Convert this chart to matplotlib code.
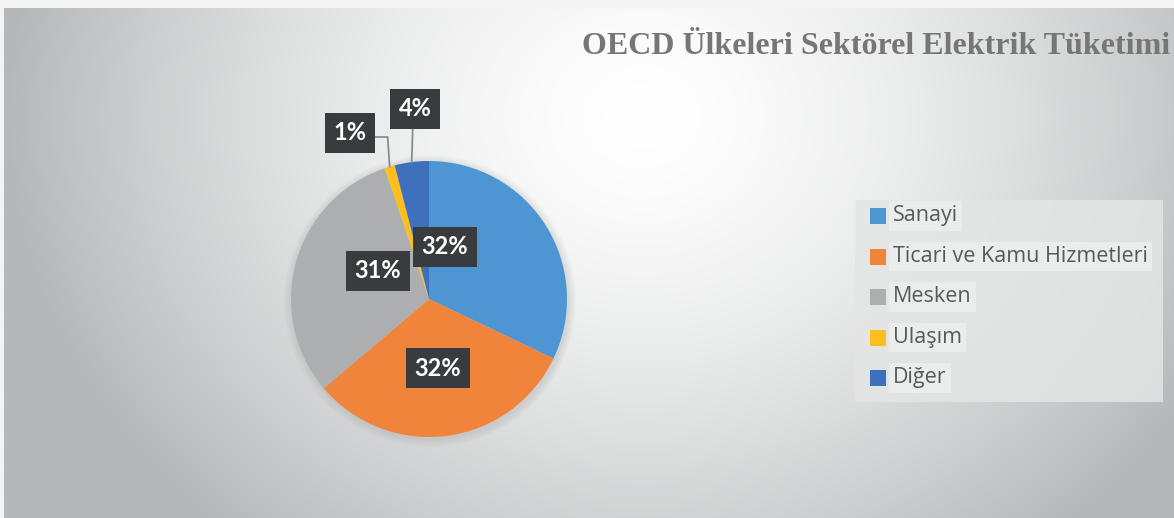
import numpy as np
import matplotlib
matplotlib.use('Agg')
import matplotlib.pyplot as plt

# veriler
categories = ["Sanayi", "Ticari ve Kamu Hizmetleri", "Mesken", "Ulaşım", "Diğer"]
shares = [32.1, 31.7, 31.0, 1.2, 4.0]
pct_labels = ["32%", "32%", "31%", "1%", "4%"]
colors = ['#4e95d3', '#f0843a', '#adaeb0', '#fdbe1e', '#3e71bd']
title = "OECD Ülkeleri Sektörel Elektrik Tüketimi"

W, H = 1174, 518
fig = plt.figure(figsize=(W / 100, H / 100), dpi=100)
fig.patch.set_facecolor('#f4f4f4')
ax = fig.add_axes([0, 0, 1, 1])

# arka plan: radyal gradyan
xx, yy = np.meshgrid(np.arange(W), np.arange(H))
d = np.sqrt(((xx - 640) / 640.0) ** 2 + ((yy - 110) / 560.0) ** 2)
t = np.clip(d, 0, 1) ** 1.5
c0 = np.array([1.0, 1.0, 1.0])
c1 = np.array([181, 184, 185]) / 255.0
img = c0[None, None, :] * (1 - t[..., None]) + c1[None, None, :] * t[..., None]
ax.imshow(img, extent=(4, W, 0, H - 8), origin='upper', zorder=0, aspect='auto')

cx, cy, r = 429, H - 299, 138

# hafif gölge
for k in range(8):
    ax.add_patch(plt.Circle((cx + 1, cy - 2), r + 8 - k, color='#808080', alpha=0.025, zorder=1, lw=0))

wedges, _ = ax.pie(shares, colors=colors, startangle=90, counterclock=False,
                   radius=r, center=(cx, cy), frame=True,
                   wedgeprops=dict(linewidth=0))
for w in wedges:
    w.set_zorder(2)
ax.set_xlim(0, W)
ax.set_ylim(0, H)
ax.set_aspect('equal')
ax.axis('off')

box = dict(boxstyle='square,pad=0.36', fc='#393c3f', ec='none')
txt_kw = dict(color='white', fontsize=17, fontweight='bold', family='Lato',
              ha='center', va='center', bbox=box, zorder=5)

# iç etiketler (konumlar: piksel)
inside_pos = {0: (445, 247), 1: (438, 368), 2: (378, 271)}
for i, (px, py) in inside_pos.items():
    ax.text(px, H - py, pct_labels[i], **txt_kw)

# dış etiketler + kılavuz çizgiler
for i, (px, py) in {3: (350, 133), 4: (415, 109)}.items():
    w = wedges[i]
    mid = np.deg2rad((w.theta1 + w.theta2) / 2)
    ex, ey = cx + r * np.cos(mid), cy + r * np.sin(mid)
    ax.text(px, H - py, pct_labels[i], **txt_kw)
    if i == 3:
        ax.plot([px + 25, ex - 2, ex], [H - py - 4, H - py - 4, ey], color='#8c8c8c', lw=1.3, zorder=3)
    else:
        ax.plot([ex + 1, ex], [H - py - 19, ey], color='#8c8c8c', lw=1.3, zorder=3)

# başlık
ax.text(1170, H - 46, title, ha='right', va='center', fontsize=23, fontweight='bold',
        family='Liberation Serif', color='#767676', zorder=5)

# lejant
ax.add_patch(plt.Rectangle((855, H - 402), 308, 202, fc='#e4e5e5', ec='none', alpha=0.85, zorder=3))
for j, (name, col) in enumerate(zip(categories, colors)):
    yc = H - (216 + j * 40.5)
    ax.add_patch(plt.Rectangle((870, yc - 8), 16, 16, fc=col, ec='none', zorder=4))
    ax.text(893, yc, name, ha='left', va='center', fontsize=15.5, family='Open Sans',
            color='#595959', zorder=5,
            bbox=dict(boxstyle='square,pad=0.2', fc='#ebecec', ec='none'))

fig.savefig('out.png', dpi=100)
plt.close(fig)
